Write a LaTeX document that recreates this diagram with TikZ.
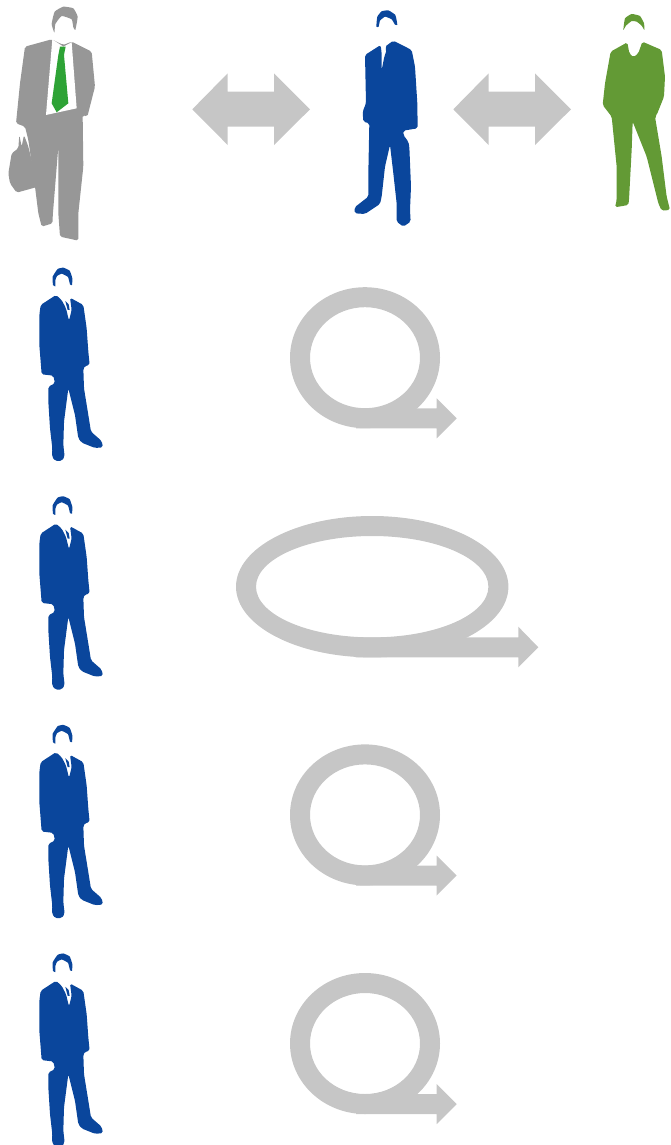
\documentclass[tikz,border=0pt]{standalone}
\usepackage{tikz}
\definecolor{suitBlue}{HTML}{0A469C}
\definecolor{suitGreen}{HTML}{639A35}
\definecolor{suitGray}{HTML}{979797}
\definecolor{tieGreen}{HTML}{2EA336}
\definecolor{arrowGray}{HTML}{C6C6C6}
\tikzset{zoomed/.style={x=0.3333pt, y=-0.3333pt},
  suit/.style={rounded corners=1.8pt}}
\newcommand{\outline}[1]{plot[smooth cycle, tension=0.25] coordinates {#1}}
% man seen in the rows on the left
\newcommand{\rowman}{
  \fill[suitBlue] \outline{(99,90) (98,65) (113,42) (130,38) (149,47) (157,70) (156,90) (150,88) (144,66) (125,56) (111,63) (106,76) (106,94)};
  \fill[suitBlue, suit] (108,120) -- (125,135) -- (138,160) -- (147,197) -- (155,165) -- (150,128) -- (190,150) -- (200,220) -- (205,290)
    -- (209,330) -- (195,333) -- (190,340) -- (192,400) -- (205,480) -- (213,530) -- (245,558) -- (249,577) -- (225,579)
    -- (185,563) -- (175,550) -- (165,480) -- (145,400) -- (132,500) -- (130,570) -- (134,605) -- (125,618) -- (106,618)
    -- (96,605) -- (97,580) -- (90,520) -- (85,440) -- (85,395) -- (105,385) -- (100,362) -- (65,358) -- (58,270)
    -- (58,180) -- (62,150) -- cycle;
  \fill[suitBlue] (136,138) -- (146,148) -- (149,165) -- (143,165) -- cycle;
}
\newcommand{\loopshape}[4]{% centre x, centre y, outer rx, outer ry; stroke is 20 wide
  \fill[arrowGray, even odd rule] (#1,#2) ellipse [x radius=#3, y radius=#4] (#1,#2) ellipse [x radius=#3-20, y radius=#4-20];
}
\begin{document}
\begin{tikzpicture}[x=1pt, y=-1pt]
  \useasboundingbox (0,0) rectangle (670,1145);
  % top row: gray man
  \begin{scope}[zoomed]
    \fill[suitGray] \outline{(155,72) (164,35) (190,20) (220,25) (233,50) (226,90) (220,82) (215,58) (185,48) (166,72) (163,98)};
    \fill[suitGray, suit] (25,520) -- (35,460) -- (55,445) -- (58,405) -- (65,440) -- (72,405) -- (85,440) -- (115,560) -- (50,578) -- (30,550) -- cycle;
    \fill[suitGray, suit] (155,118) -- (75,140) -- (60,250) -- (48,370) -- (75,380) -- (85,420) -- (105,560) -- (115,640) -- (125,680) -- (158,670)
      -- (158,650) -- (175,440) -- (175,640) -- (180,710) -- (235,722) -- (235,640) -- (250,500) -- (248,345) -- (262,350)
      -- (285,260) -- (275,155) -- (215,125) -- (190,135) -- cycle;
    \fill[white] (157,118) -- (138,345) -- (230,325) -- (215,127) -- (190,140) -- cycle;
    \fill[tieGreen] (180,140) -- (197,140) -- (192,165) -- (205,310) -- (170,337) -- (155,310) -- (175,165) -- cycle;
  \end{scope}
  % top row: blue man
  \begin{scope}[shift={(340,0)}, zoomed]
    \fill[suitBlue] \outline{(109,80) (112,50) (125,34) (145,31) (166,45) (172,74) (165,74) (155,58) (135,50) (120,62) (116,80)};
    \fill[suitBlue, suit] (122,135) -- (125,160) -- (125,210) -- (133,170) -- (140,150) -- (135,140) -- (160,122) -- (215,150) -- (225,200)
      -- (232,310) -- (233,385) -- (190,392) -- (190,405) -- (205,425) -- (208,440) -- (213,560) -- (210,630) -- (212,665)
      -- (190,680) -- (170,665) -- (170,610) -- (160,520) -- (150,435) -- (135,500) -- (125,590) -- (120,612) -- (75,642)
      -- (44,640) -- (44,622) -- (85,590) -- (85,520) -- (88,370) -- (70,365) -- (68,335) -- (78,310) -- (75,165) -- cycle;
  \end{scope}
  % top row: green man
  \begin{scope}[shift={(590,0)}, zoomed]
    \fill[suitGreen] \outline{(100,90) (105,55) (125,42) (150,48) (162,70) (163,90) (155,77) (140,65) (125,63) (108,77)};
    \fill[suitGreen, suit] (112,127) -- (118,160) -- (130,172) -- (145,160) -- (157,125) -- (215,150) -- (225,230) -- (222,290) -- (200,345)
      -- (195,350) -- (215,470) -- (230,590) -- (240,630) -- (215,632) -- (205,610) -- (170,470) -- (128,365) -- (125,450)
      -- (117,600) -- (115,615) -- (75,622) -- (80,600) -- (80,500) -- (65,350) -- (38,315) -- (45,250) -- (62,155) -- cycle;
  \end{scope}
  % double arrows between the men
  \foreach \dx in {0,261}
    {\fill[arrowGray, shift={(\dx,0)}] (192.3,109.3) -- (227.7,73.3) -- (227.7,91.7) -- (274,91.7) -- (274,73.3) -- (310,109.3)
       -- (274,145) -- (274,126.7) -- (227.7,126.7) -- (227.7,145) -- cycle;}
  % rows with the loops
  \foreach \row in {0,1,2,3}
    {\begin{scope}[shift={(20,255+228.6*\row)}, zoomed]
       \rowman
     \end{scope}}
  \foreach \row in {0,2,3}
    {\begin{scope}[shift={(0,228.6*\row)}]
       \loopshape{365}{357.7}{75}{70.5}
       \fill[arrowGray] (356,408.3) -- (436.7,408.3) -- (436.7,398.3) -- (456.7,418.3) -- (436.7,438.3) -- (436.7,428.3) -- (356,428.3) -- cycle;
     \end{scope}}
  \loopshape{372.2}{586.7}{136.2}{70.7}
  \fill[arrowGray] (355.7,637.3) -- (518.3,637.3) -- (518.3,626.7) -- (538.3,647.3) -- (518.3,667.3) -- (518.3,657.3) -- (355.7,657.3) -- cycle;
\end{tikzpicture}
\end{document}
